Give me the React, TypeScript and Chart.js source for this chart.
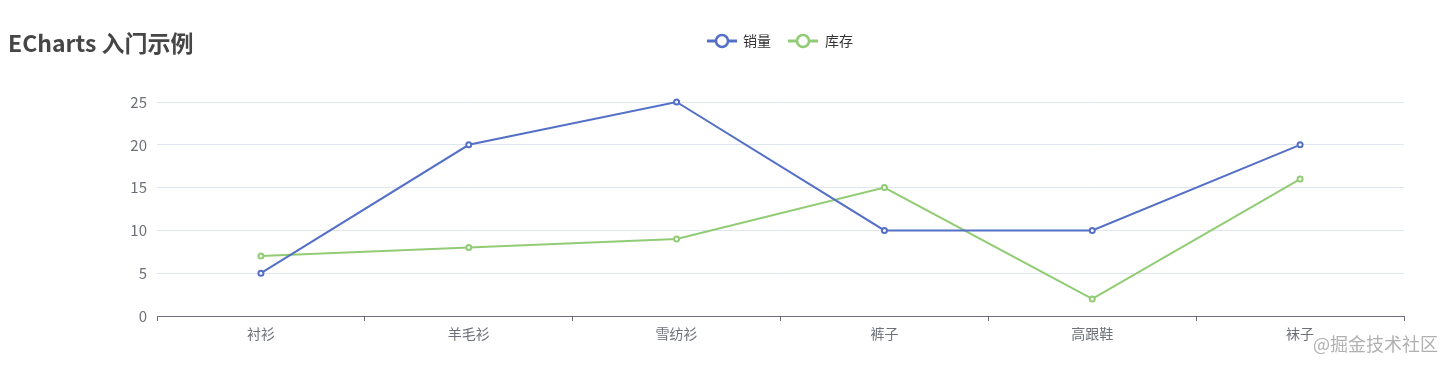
import React, { useEffect, useRef } from "react";
import { Chart, registerables } from "chart.js";

Chart.register(...registerables);

const categories = ["衬衫", "羊毛衫", "雪纺衫", "裤子", "高跟鞋", "袜子"];
const salesValues = [5, 20, 25, 10, 10, 20];
const stockValues = [7, 8, 9, 15, 2, 16];
const seriesNames = ["销量", "库存"];
const seriesColors = ["#5470c6", "#91cc75"];
const titleText = "ECharts 入门示例";
const watermarkText = "@掘金技术社区";

const FONT = '"Microsoft YaHei", "Noto Sans CJK SC", sans-serif';

const overlayPlugin = {
  id: "overlay",
  afterDraw(chart: any) {
    const ctx = chart.ctx;
    ctx.save();
    // title
    ctx.fillStyle = "#464646";
    ctx.font = `bold 23px ${FONT}`;
    ctx.textBaseline = "middle";
    ctx.textAlign = "left";
    ctx.fillText(titleText, 0, 35);
    // legend
    const items = [
      { x: 699, tx: 735 },
      { x: 780, tx: 817 },
    ];
    items.forEach((it, i) => {
      const y = 33;
      ctx.strokeStyle = seriesColors[i];
      ctx.lineWidth = 3;
      ctx.beginPath();
      ctx.moveTo(it.x, y);
      ctx.lineTo(it.x + 30, y);
      ctx.stroke();
      ctx.beginPath();
      ctx.arc(it.x + 15, y, 6, 0, Math.PI * 2);
      ctx.fillStyle = "#fff";
      ctx.fill();
      ctx.lineWidth = 2.5;
      ctx.stroke();
      ctx.fillStyle = "#333";
      ctx.font = `14px ${FONT}`;
      ctx.fillText(seriesNames[i], it.tx, y);
    });
    // watermark
    ctx.fillStyle = "rgba(150,150,150,0.75)";
    ctx.font = `18px ${FONT}`;
    ctx.textAlign = "left";
    ctx.fillText(watermarkText, 1305, 336);
    ctx.restore();
  },
};

export default function App() {
  const ref = useRef<HTMLCanvasElement>(null);
  useEffect(() => {
    if (!ref.current) return;
    const chart = new Chart(ref.current, {
      type: "line",
      data: {
        labels: categories,
        datasets: [
          {
            label: seriesNames[0],
            data: salesValues,
            borderColor: seriesColors[0],
            backgroundColor: "#fff",
            pointBorderColor: seriesColors[0],
            pointBackgroundColor: "#fff",
            borderWidth: 2,
            pointRadius: 2.5,
            pointBorderWidth: 2,
            tension: 0,
            clip: false,
          },
          {
            label: seriesNames[1],
            data: stockValues,
            borderColor: seriesColors[1],
            backgroundColor: "#fff",
            pointBorderColor: seriesColors[1],
            pointBackgroundColor: "#fff",
            borderWidth: 2,
            pointRadius: 2.5,
            pointBorderWidth: 2,
            tension: 0,
            clip: false,
          },
        ],
      },
      options: {
        animation: false,
        responsive: false,
        maintainAspectRatio: false,
        layout: { padding: { top: 94, right: 38, bottom: 19, left: 0 } },
        plugins: {
          legend: { display: false },
          title: { display: false },
          tooltip: { enabled: false },
        },
        scales: {
          x: {
            type: "category",
            offset: true,
            grid: {
              offset: true,
              drawOnChartArea: false,
              drawTicks: true,
              tickLength: 5,
              color: "#6e7079",
            },
            border: { display: true, color: "#6e7079", width: 1 },
            ticks: {
              color: "#6e7079",
              font: { size: 14, family: FONT },
              padding: 4,
              maxRotation: 0,
            },
            afterFit: (s: any) => {
              s.height = 30;
            },
          },
          y: {
            min: 0,
            max: 25,
            ticks: {
              stepSize: 5,
              color: "#6e7079",
              font: { size: 15, family: FONT },
              padding: 10,
            },
            grid: { color: "#e0e6f1", drawTicks: false },
            border: { display: false },
            afterFit: (s: any) => {
              s.width = 149;
            },
          },
        },
      },
      plugins: [overlayPlugin],
    });
    return () => chart.destroy();
  }, []);
  return (
    <div style={{ width: 1434, height: 357 }}>
      <canvas ref={ref} width={1434} height={357} style={{ width: 1434, height: 357 }} />
    </div>
  );
}
